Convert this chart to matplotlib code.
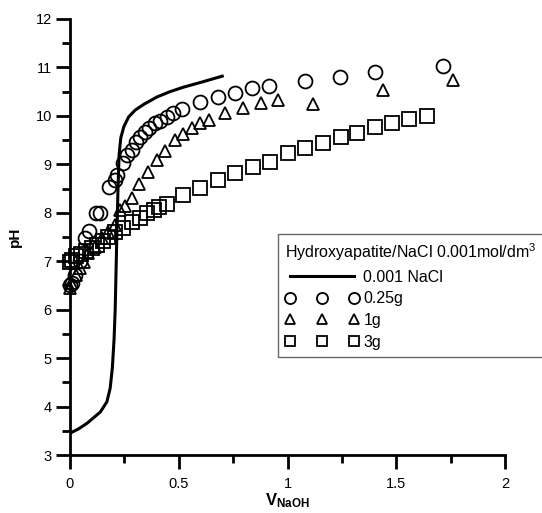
import numpy as np
from matplotlib import pyplot as plt
from matplotlib.ticker import MultipleLocator

plt.rcParams['font.family'] = ['Liberation Sans', 'DejaVu Sans']
plt.rcParams['mathtext.fontset'] = 'custom'
plt.rcParams['mathtext.rm'] = 'Liberation Sans'
plt.rcParams['mathtext.bf'] = 'Liberation Sans:bold'

# 0.001 NaCl blank titration
x_nacl = [0, 0.04, 0.08, 0.14, 0.17, 0.185, 0.195, 0.203, 0.208, 0.212, 0.216, 0.221,
          0.226, 0.234, 0.248, 0.27, 0.3, 0.34, 0.4, 0.46, 0.52, 0.6, 0.7]
ph_nacl = [3.45, 3.54, 3.66, 3.89, 4.1, 4.38, 4.8, 5.4, 6.0, 6.8, 7.6, 8.5,
           9.2, 9.55, 9.78, 9.98, 10.12, 10.24, 10.39, 10.5, 10.59, 10.69, 10.82]

# 0.25 g
x_025 = [0, 0.01, 0.025, 0.045, 0.07, 0.087, 0.12, 0.138, 0.18, 0.205, 0.218, 0.243,
         0.262, 0.285, 0.303, 0.322, 0.345, 0.363, 0.391, 0.414, 0.446, 0.474, 0.515,
         0.598, 0.68, 0.759, 0.837, 0.915, 1.08, 1.24, 1.40, 1.715]
ph_025 = [6.5, 6.55, 6.72, 7.0, 7.48, 7.63, 7.99, 8.0, 8.53, 8.68, 8.78, 9.03,
          9.19, 9.3, 9.46, 9.56, 9.67, 9.75, 9.85, 9.9, 9.98, 10.06, 10.14,
          10.29, 10.39, 10.47, 10.58, 10.62, 10.73, 10.8, 10.9, 11.02]

# 1 g
x_1 = [0, 0.005, 0.03, 0.045, 0.065, 0.083, 0.115, 0.147, 0.175, 0.207, 0.23, 0.253,
       0.285, 0.317, 0.359, 0.4, 0.437, 0.483, 0.52, 0.56, 0.598, 0.64, 0.713,
       0.795, 0.878, 0.956, 1.117, 1.44, 1.76]
ph_1 = [6.45, 6.55, 6.72, 6.87, 6.98, 7.17, 7.3, 7.48, 7.6, 7.75, 8.06, 8.14,
        8.3, 8.59, 8.84, 9.09, 9.27, 9.5, 9.63, 9.75, 9.85, 9.92, 10.06,
        10.16, 10.27, 10.33, 10.25, 10.53, 10.74]

# 3 g
x_3 = [0, 0.01, 0.03, 0.05, 0.075, 0.1, 0.125, 0.15, 0.175, 0.205, 0.245, 0.285,
       0.32, 0.355, 0.385, 0.41, 0.445, 0.52, 0.6, 0.68, 0.76, 0.84, 0.92, 1.0,
       1.08, 1.165, 1.245, 1.32, 1.40, 1.48, 1.56, 1.64]
ph_3 = [6.98, 7.02, 7.1, 7.15, 7.22, 7.28, 7.34, 7.42, 7.5, 7.6, 7.69, 7.81,
        7.89, 7.99, 8.06, 8.12, 8.18, 8.37, 8.51, 8.68, 8.82, 8.95, 9.05, 9.23,
        9.33, 9.44, 9.56, 9.65, 9.77, 9.85, 9.94, 10.0]

fig = plt.figure(figsize=(5.42, 5.13), dpi=100)
ax = fig.add_axes([0.129, 0.113, 0.803, 0.850])

ax.plot(x_nacl, ph_nacl, color='k', lw=2.2, label='0.001 NaCl', zorder=3)
mk = dict(ls='none', mfc='none', mec='k', mew=1.3, clip_on=False)
ax.plot(x_025, ph_025, marker='o', ms=10, label='0.25g', **mk)
ax.plot(x_1, ph_1, marker='^', ms=9, label='1g', **mk)
ax.plot(x_3, ph_3, marker='s', ms=9.5, label='3g', **mk)

ax.set_xlim(0, 2)
ax.set_ylim(3, 12)
ax.xaxis.set_major_locator(MultipleLocator(0.5))
ax.xaxis.set_minor_locator(MultipleLocator(0.25))
ax.yaxis.set_major_locator(MultipleLocator(1))
ax.yaxis.set_minor_locator(MultipleLocator(0.5))
ax.set_xticks([0, 0.5, 1, 1.5, 2], ['0', '0.5', '1', '1.5', '2'])

for s in ['top', 'right']:
    ax.spines[s].set_visible(False)
for s in ['left', 'bottom']:
    ax.spines[s].set_linewidth(2.0)
ax.tick_params(which='major', direction='out', length=10, width=2.0, labelsize=10.5)
ax.tick_params(which='minor', direction='out', length=5.5, width=2.0)
ax.tick_params(axis='x', which='major', pad=6)
ax.tick_params(axis='y', which='major', pad=3)

ax.set_xlabel(r'$\mathbf{V_{NaOH}}$', fontsize=12, labelpad=0)
ax.set_ylabel('pH', fontsize=11, fontweight='bold', labelpad=10)

leg = ax.legend(title='Hydroxyapatite/NaCl 0.001mol/dm$^3$', loc='upper left',
                bbox_to_anchor=(0.513, 0.544), bbox_transform=fig.transFigure,
                borderaxespad=0, fontsize=11.5, title_fontsize=11.5, numpoints=3,
                handlelength=4.6, handletextpad=0.3, labelspacing=0.42,
                borderpad=0.45, fancybox=False, frameon=True, alignment='left',
                markerscale=0.8)
leg.get_frame().set_edgecolor('#444444')
leg.get_frame().set_linewidth(1.0)

fig.savefig('out.png', dpi=100)
